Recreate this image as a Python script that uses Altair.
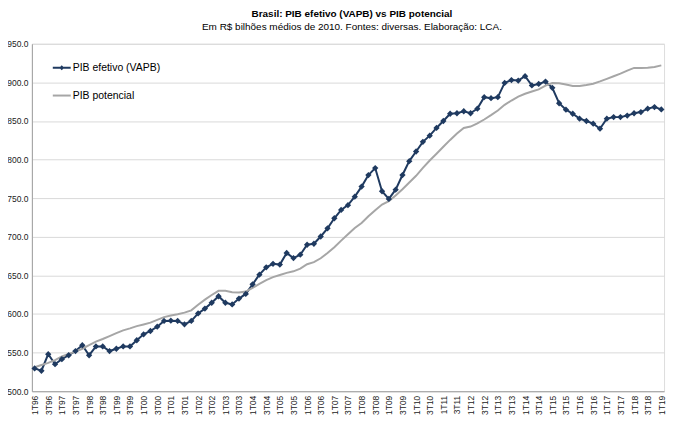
import altair as alt
import pandas as pd

# Quarter labels 1T96 .. 1T19
quarters = [f"{q}T{y % 100:02d}" for y in range(1996, 2020) for q in range(1, 5)][:93]

efetivo = [
    529.5, 526.5, 548.0, 535.0, 541.5, 546.6, 552.0, 559.5, 546.6, 558.0,
    558.0, 552.0, 555.0, 558.0, 558.0, 566.0, 573.7, 578.0, 583.6, 591.0,
    591.4, 591.0, 586.6, 591.0, 600.8, 607.0, 614.6, 623.0, 614.6, 612.4,
    620.0, 626.0, 638.5, 651.0, 660.5, 665.0, 664.0, 679.0, 672.5, 676.8,
    689.7, 691.0, 700.4, 711.0, 724.0, 734.8, 741.0, 752.0, 765.0, 780.0,
    789.0, 759.0, 749.0, 761.0, 780.0, 798.0, 810.5, 823.0, 831.0, 841.0,
    850.0, 859.4, 860.0, 862.6, 860.0, 866.0, 880.8, 879.5, 880.8, 899.3,
    903.0, 902.3, 908.0, 896.0, 898.0, 901.0, 893.0, 873.0, 864.6, 859.4,
    853.0, 850.0, 846.5, 840.0, 853.0, 855.0, 855.0, 857.0, 860.0, 861.5,
    866.0, 868.0, 865.0,
]

potencial = [
    531.0, 534.0, 536.7, 540.2, 545.0, 548.3, 551.2, 555.0, 559.8, 564.2,
    567.6, 571.4, 575.2, 578.8, 581.4, 584.3, 586.5, 588.8, 592.3, 596.0,
    598.0, 599.6, 601.8, 604.7, 612.0, 618.6, 624.6, 630.0, 630.0, 628.3,
    627.8, 629.0, 633.8, 639.0, 643.9, 647.7, 650.5, 653.3, 655.3, 658.7,
    664.5, 667.1, 672.2, 679.0, 686.4, 695.0, 703.3, 711.3, 717.9, 726.6,
    734.5, 741.8, 746.3, 753.4, 761.5, 770.4, 779.0, 789.2, 798.8, 807.6,
    816.6, 825.5, 833.8, 840.9, 842.8, 846.8, 851.9, 857.5, 863.5, 870.9,
    876.5, 881.6, 885.2, 888.1, 891.0, 895.8, 899.2, 899.0, 897.2, 895.2,
    895.4, 896.7, 898.3, 901.3, 904.6, 907.9, 911.3, 915.3, 918.7, 918.7,
    918.9, 920.0, 922.0,
]

series_names = ["PIB efetivo (VAPB)", "PIB potencial"]
series_colors = ["#1F3A60", "#A6A6A6"]
legend_paths = ["M-1,0H1M0,-0.12L0.12,0L0,0.12L-0.12,0Z", "M-1,0H1"]
y_ticks = [500, 550, 600, 650, 700, 750, 800, 850, 900, 950]

df = pd.DataFrame({
    "trimestre": quarters * 2,
    "serie": [series_names[0]] * len(quarters) + [series_names[1]] * len(quarters),
    "valor": efetivo + potencial,
})

FONT = "Liberation Sans"

x_enc = alt.X(
    "trimestre:O", sort=quarters,
    scale=alt.Scale(type="point", padding=0.4),
    axis=alt.Axis(values=quarters[::2], labelAngle=-90, title=None, ticks=False,
                  grid=False, domainColor="#A0A0A0", labelFontSize=8.5,
                  labelColor="#222222", labelPadding=4, labelFont=FONT),
)
y_enc = alt.Y(
    "valor:Q",
    scale=alt.Scale(domain=[500, 950], nice=False, zero=False),
    axis=alt.Axis(values=y_ticks, format=".1f", title=None, ticks=False,
                  gridColor="#D9D9D9", domainColor="#A0A0A0", labelFontSize=8.5,
                  labelColor="#222222", labelPadding=4, labelFont=FONT),
)

cscale = alt.Scale(domain=series_names, range=series_colors)
leg = alt.Legend(title=None, orient="none", legendX=20, legendY=14,
                 symbolSize=324, symbolStrokeWidth=2, labelFontSize=10.5,
                 labelFont=FONT, labelColor="#000000", rowPadding=12,
                 labelOffset=1, symbolFillColor="transparent")

base = alt.Chart(df)

lines = base.mark_line(strokeWidth=2).encode(
    x=x_enc, y=y_enc,
    color=alt.Color("serie:N", scale=cscale, legend=leg),
    order=alt.Order("serie:N"),
)

points = base.transform_filter(
    alt.datum.serie == series_names[0]
).mark_point(filled=True, shape="diamond", size=40, opacity=1).encode(
    x=x_enc, y=y_enc,
    color=alt.Color("serie:N", scale=cscale, legend=leg),
)

legend_layer = base.transform_filter("false").mark_point(
    filled=False, strokeWidth=2, opacity=1
).encode(
    x=x_enc, y=y_enc,
    color=alt.Color("serie:N", scale=cscale, legend=leg),
    shape=alt.Shape("serie:N", scale=alt.Scale(domain=series_names, range=legend_paths), legend=leg),
)

chart = alt.layer(lines, points, legend_layer).properties(
    width=635, height=349,
    autosize=alt.AutoSizeParams(type="none"),
    padding={"left": 24, "top": 35, "right": 8, "bottom": 32},
    title=alt.TitleParams(
        text="Brasil: PIB efetivo (VAPB) vs PIB potencial",
        subtitle="Em R$ bilhões médios de 2010. Fontes: diversas. Elaboração: LCA.",
        font=FONT, fontSize=10, fontWeight="bold", color="#000000",
        subtitleFont=FONT, subtitleFontSize=10, subtitleColor="#000000",
        subtitlePadding=3, anchor="middle", offset=8, dx=4,
    ),
).configure_view(stroke=None).configure(background="white")

chart.save("out.html", embed_options={"renderer": "svg", "actions": False})
